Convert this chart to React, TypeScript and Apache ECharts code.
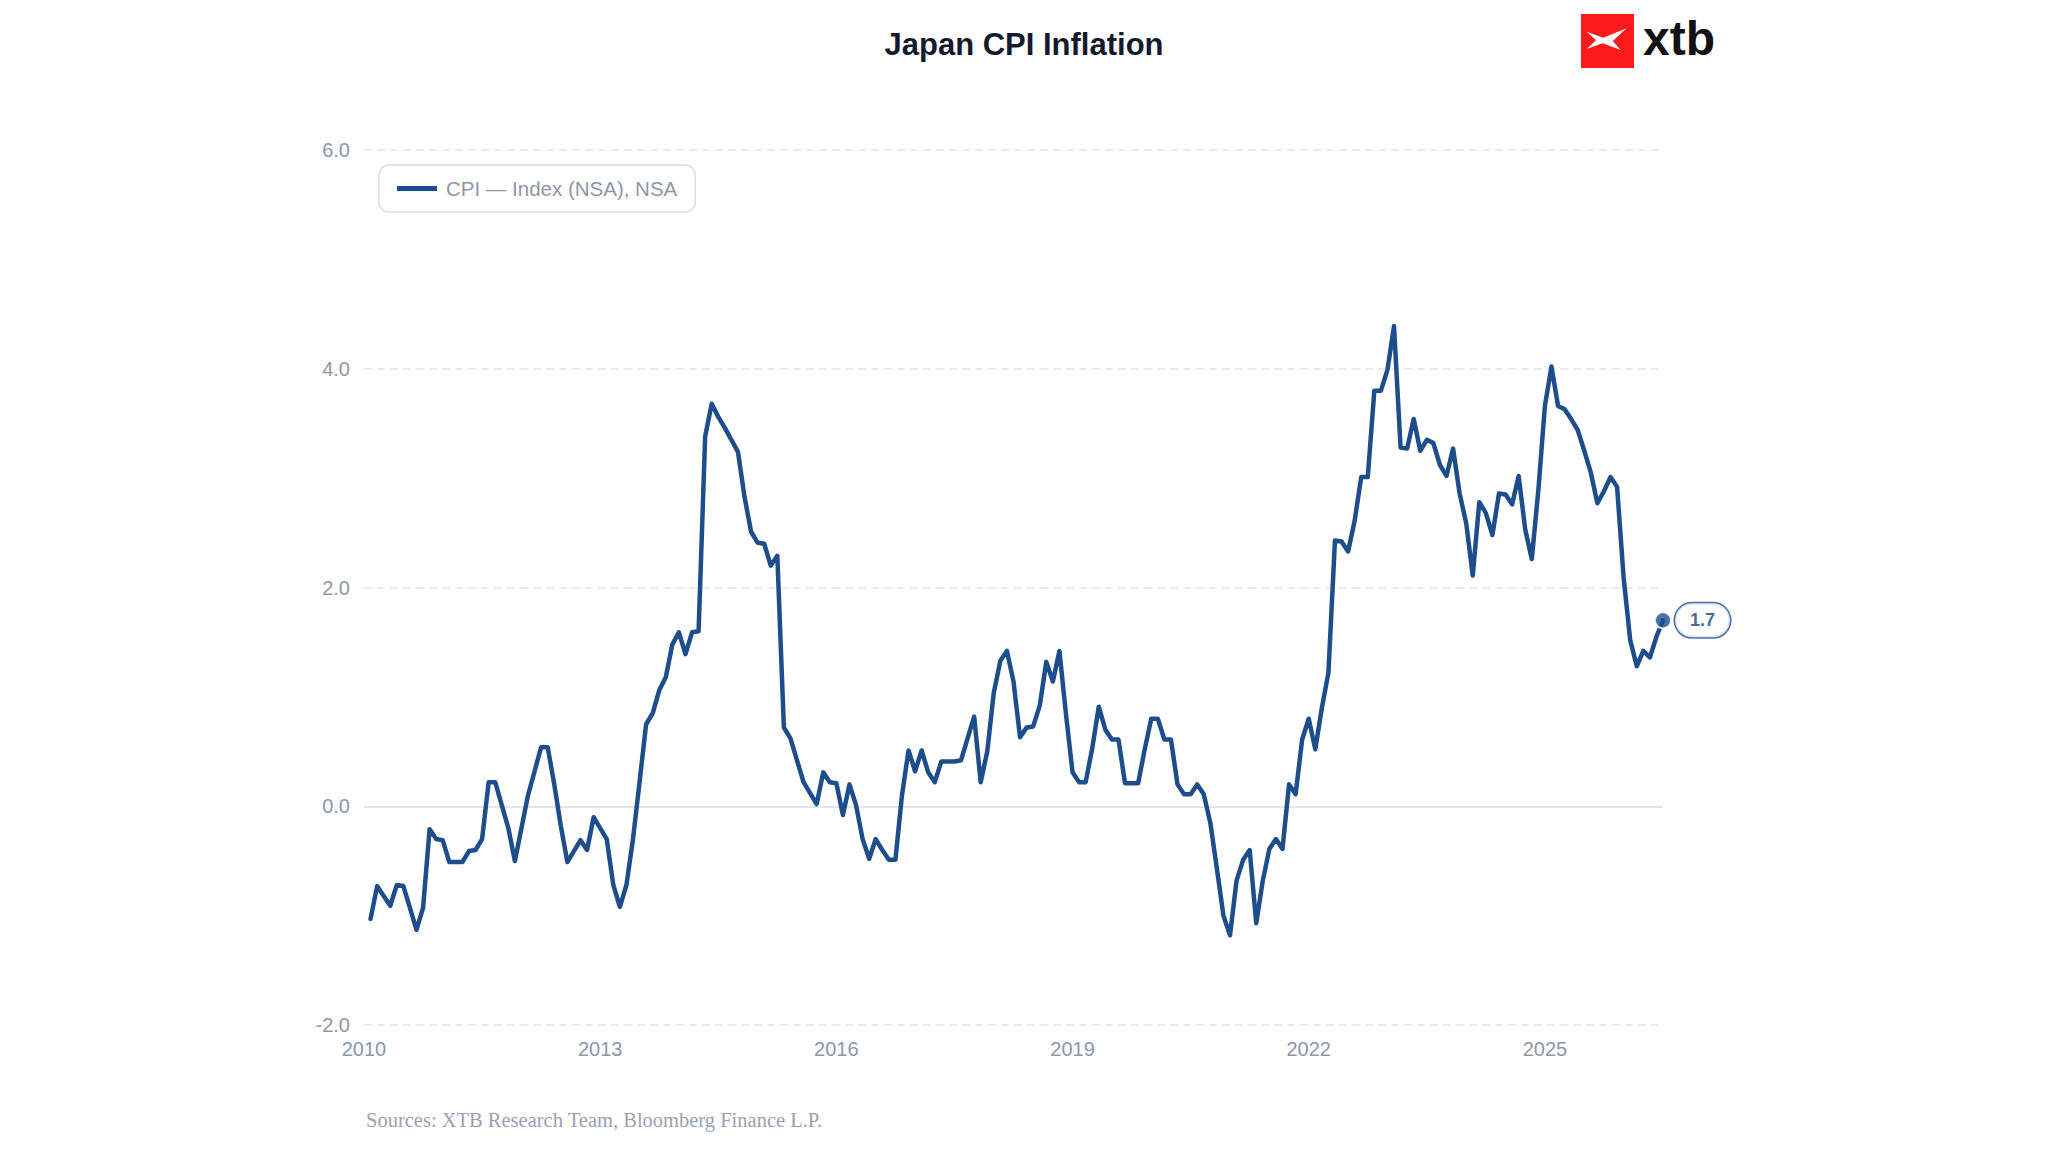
import React, { useEffect, useRef } from "react";
import * as echarts from "echarts";

// Monthly Japan CPI, y/y % (end-of-month observations), Jan 2010 .. Jun 2026
const startYear = 2010;
const cpiYoY: number[] = [
  // 2010
  -1.03, -0.73, -0.82, -0.91, -0.72, -0.73, -0.93, -1.13, -0.93, -0.21, -0.3, -0.31,
  // 2011
  -0.51, -0.51, -0.51, -0.41, -0.4, -0.3, 0.22, 0.22, 0.01, -0.2, -0.5, -0.2,
  // 2012
  0.1, 0.32, 0.54, 0.54, 0.2, -0.18, -0.51, -0.41, -0.31, -0.4, -0.1, -0.2,
  // 2013
  -0.3, -0.72, -0.92, -0.72, -0.3, 0.22, 0.75, 0.85, 1.06, 1.18, 1.48, 1.59,
  // 2014
  1.39, 1.59, 1.6, 3.38, 3.68, 3.56, 3.46, 3.35, 3.24, 2.83, 2.51, 2.41,
  // 2015
  2.4, 2.2, 2.29, 0.72, 0.62, 0.42, 0.22, 0.12, 0.02, 0.31, 0.22, 0.21,
  // 2016
  -0.08, 0.2, 0.01, -0.3, -0.48, -0.3, -0.4, -0.49, -0.49, 0.1, 0.51, 0.32,
  // 2017
  0.51, 0.31, 0.22, 0.41, 0.41, 0.41, 0.42, 0.62, 0.82, 0.22, 0.5, 1.04,
  // 2018
  1.33, 1.42, 1.14, 0.63, 0.72, 0.73, 0.92, 1.32, 1.14, 1.42, 0.84, 0.31,
  // 2019
  0.22, 0.22, 0.53, 0.91, 0.7, 0.61, 0.61, 0.21, 0.21, 0.21, 0.52, 0.8,
  // 2020
  0.8, 0.61, 0.61, 0.2, 0.11, 0.11, 0.2, 0.11, -0.15, -0.57, -1.0, -1.18,
  // 2021
  -0.68, -0.49, -0.4, -1.07, -0.68, -0.39, -0.3, -0.39, 0.2, 0.11, 0.61, 0.8,
  // 2022
  0.52, 0.9, 1.22, 2.43, 2.42, 2.33, 2.61, 3.01, 3.01, 3.8, 3.8, 3.99,
  // 2023
  4.39, 3.28, 3.27, 3.54, 3.25, 3.35, 3.32, 3.12, 3.02, 3.27, 2.86, 2.59,
  // 2024
  2.11, 2.78, 2.68, 2.48, 2.86, 2.85, 2.76, 3.02, 2.53, 2.26, 2.89, 3.66,
  // 2025
  4.02, 3.66, 3.63, 3.54, 3.44, 3.25, 3.05, 2.77, 2.88, 3.01, 2.92, 2.09,
  // 2026
  1.52, 1.28, 1.42, 1.36, 1.55, 1.7,
];

const seriesName = "CPI — Index (NSA), NSA";
const titleText = "Japan CPI Inflation";
const sourceText = "Sources: XTB Research Team, Bloomberg Finance L.P.";
const brandText = "xtb";

const xMin = 2010;
const xInterval = 3;
const yMin = -2;
const yMax = 6;
const yInterval = 2;

const LINE = "#1e4d8c";
const AXIS_TEXT = "#8e97a9";
const GRID = "#e3e5ec";
const SANS = "'Liberation Sans', Arial, Helvetica, sans-serif";

export default function App() {
  const ref = useRef<HTMLDivElement>(null);

  useEffect(() => {
    if (!ref.current) return;
    const chart = echarts.init(ref.current, null, { renderer: "svg" });

    // end-of-month position in fractional years
    const points = cpiYoY.map((v, i) => [startYear + (i + 1) / 12, v]);
    const last = points[points.length - 1];
    const xMax = last[0] as number;

    const option: any = {
      animation: false,
      backgroundColor: "#ffffff",
      title: {
        text: titleText,
        left: "center",
        top: 24,
        textStyle: {
          fontFamily: SANS,
          fontSize: 31,
          fontWeight: "bold",
          color: "#141a2e",
        },
      },
      legend: {
        data: [seriesName],
        left: 379,
        top: 165,
        padding: [13, 18, 13, 18],
        borderColor: "#d9dde4",
        borderWidth: 1.5,
        borderRadius: 10,
        backgroundColor: "#ffffff",
        icon: "rect",
        itemWidth: 40,
        itemHeight: 5,
        textStyle: { fontFamily: SANS, fontSize: 20.5, color: AXIS_TEXT, padding: [0, 0, 0, 4] },
      },
      grid: { left: 364, right: 385, top: 150, bottom: 127, containLabel: false },
      xAxis: {
        type: "value",
        min: xMin,
        max: xMax,
        interval: xInterval,
        axisLine: { show: false },
        axisTick: { show: false },
        splitLine: { show: false },
        axisLabel: {
          showMaxLabel: false,
          margin: 14,
          fontFamily: SANS,
          fontSize: 20,
          color: AXIS_TEXT,
          formatter: (v: number) => String(Math.round(v)),
        },
      },
      yAxis: {
        type: "value",
        min: yMin,
        max: yMax,
        interval: yInterval,
        axisLine: { show: false },
        axisTick: { show: false },
        splitLine: { show: true, lineStyle: { color: GRID, width: 1.5, type: [8, 5] } },
        axisLabel: {
          margin: 14,
          fontFamily: SANS,
          fontSize: 20,
          color: AXIS_TEXT,
          formatter: (v: number) => v.toFixed(1),
        },
      },
      series: [
        {
          name: seriesName,
          type: "line",
          data: points,
          showSymbol: false,
          smooth: false,
          color: LINE,
          lineStyle: { color: LINE, width: 4.5, join: "round", cap: "round" },
          z: 3,
          markLine: {
            silent: true,
            symbol: "none",
            label: { show: false },
            lineStyle: { color: "#e4e5ec", width: 2, type: "solid" },
            data: [{ yAxis: 0 }],
            z: 1,
          },
        },
        {
          name: "last",
          type: "scatter",
          data: [last],
          symbol: "circle",
          symbolSize: 16,
          itemStyle: { color: LINE, borderColor: "#ffffff", borderWidth: 2 },
          z: 5,
          label: {
            show: true,
            position: "right",
            distance: 3,
            formatter: (p: any) => (p.value[1] as number).toFixed(1),
            backgroundColor: "#ffffff",
            borderColor: LINE,
            borderWidth: 1.5,
            borderRadius: 18,
            padding: [8, 15, 8, 15],
            color: "#173f75",
            fontFamily: SANS,
            fontWeight: "bold",
            fontSize: 18,
          },
        },
      ],
      graphic: [
        {
          type: "rect",
          shape: { x: 1581, y: 14, width: 53, height: 54 },
          style: { fill: "#fe1a1a" },
        },
        {
          type: "polygon",
          shape: {
            points: [
              [1586.7, 31.7],
              [1603.3, 37.7],
              [1626.7, 28.3],
              [1612.7, 41],
              [1620.7, 50],
              [1602.7, 43.3],
              [1586.7, 49],
              [1596, 40.3],
            ],
          },
          style: { fill: "#ffffff" },
        },
        {
          type: "text",
          x: 1643,
          y: 38,
          style: {
            text: brandText,
            font: `bold 48px ${SANS}`,
            fill: "#111111",
            verticalAlign: "middle",
            align: "left",
          },
        },
        {
          type: "text",
          x: 366,
          y: 1120,
          style: {
            text: sourceText,
            font: "20.5px 'Liberation Serif', 'Times New Roman', serif",
            fill: "#98a1b3",
            verticalAlign: "middle",
            align: "left",
          },
        },
      ],
    };

    chart.setOption(option);
    return () => chart.dispose();
  }, []);

  return (
    <div
      ref={ref}
      style={{
        position: "absolute",
        left: 0,
        top: 0,
        width: 2048,
        height: 1152,
        background: "#ffffff",
      }}
    />
  );
}
